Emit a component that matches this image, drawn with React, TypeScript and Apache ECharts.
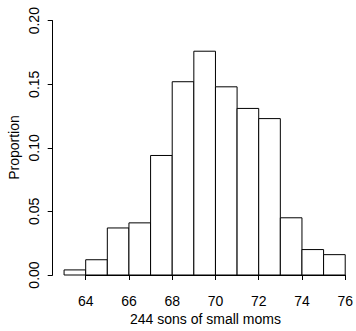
import React, { useEffect, useRef } from "react";
import * as echarts from "echarts";

const binStarts = [63, 64, 65, 66, 67, 68, 69, 70, 71, 72, 73, 74, 75];
const binEnds = [64, 65, 66, 67, 68, 69, 70, 71, 72, 73, 74, 75, 76];
const proportions = [0.004, 0.012, 0.037, 0.041, 0.094, 0.152, 0.176, 0.148, 0.131, 0.123, 0.045, 0.020, 0.016];
const xTitle = "244 sons of small moms";
const yTitle = "Proportion";

const FONT = "'Liberation Sans', Arial, sans-serif";

export default function App() {
  const ref = useRef<HTMLDivElement>(null);
  useEffect(() => {
    if (!ref.current) return;
    const chart = echarts.init(ref.current, null, { renderer: "svg" });
    const data = binStarts.map((s, i) => [s, binEnds[i], proportions[i]]);
    chart.setOption({
      animation: false,
      backgroundColor: "#fff",
      grid: { left: 85.7, width: 261.6, top: 20.7, height: 254.3, containLabel: false },
      xAxis: {
        type: "value",
        min: 64,
        max: 76,
        interval: 2,
        offset: 9.5,
        axisLine: { show: true, lineStyle: { color: "#000", width: 1 } },
        axisTick: { show: true, length: 5, lineStyle: { color: "#000" } },
        axisLabel: { color: "#000", fontSize: 14, fontFamily: FONT, margin: 9 },
        splitLine: { show: false },
      },
      yAxis: {
        type: "value",
        min: 0,
        max: 0.2,
        interval: 0.05,
        offset: 33,
        axisLine: { show: true, lineStyle: { color: "#000", width: 1 } },
        axisTick: { show: true, length: 5, lineStyle: { color: "#000" } },
        axisLabel: {
          color: "#000",
          fontSize: 14,
          fontFamily: FONT,
          rotate: 90,
          margin: 12,
          formatter: (v: number) => v.toFixed(2),
        },
        splitLine: { show: false },
      },
      series: [
        {
          type: "custom",
          clip: false,
          data,
          renderItem: (params: any, api: any) => {
            const p0 = api.coord([api.value(0), api.value(2)]);
            const p1 = api.coord([api.value(1), 0]);
            return {
              type: "rect",
              shape: { x: p0[0], y: p0[1], width: p1[0] - p0[0], height: p1[1] - p0[1] },
              style: { fill: "#fff", stroke: "#000", lineWidth: 1 },
            };
          },
        },
      ],
      graphic: [
        {
          type: "text",
          x: 205.5,
          y: 318.5,
          style: {
            text: xTitle,
            fontSize: 14,
            fontFamily: FONT,
            fill: "#000",
            align: "center",
            verticalAlign: "middle",
          },
        },
        {
          type: "text",
          x: 13.5,
          y: 147.5,
          rotation: Math.PI / 2,
          style: {
            text: yTitle,
            fontSize: 14,
            fontFamily: FONT,
            fill: "#000",
            align: "center",
            verticalAlign: "middle",
          },
        },
      ],
    });
    return () => chart.dispose();
  }, []);
  return (
    <div
      ref={ref}
      style={{ position: "fixed", left: 0, top: 0, width: 356, height: 331, background: "#fff" }}
    />
  );
}
